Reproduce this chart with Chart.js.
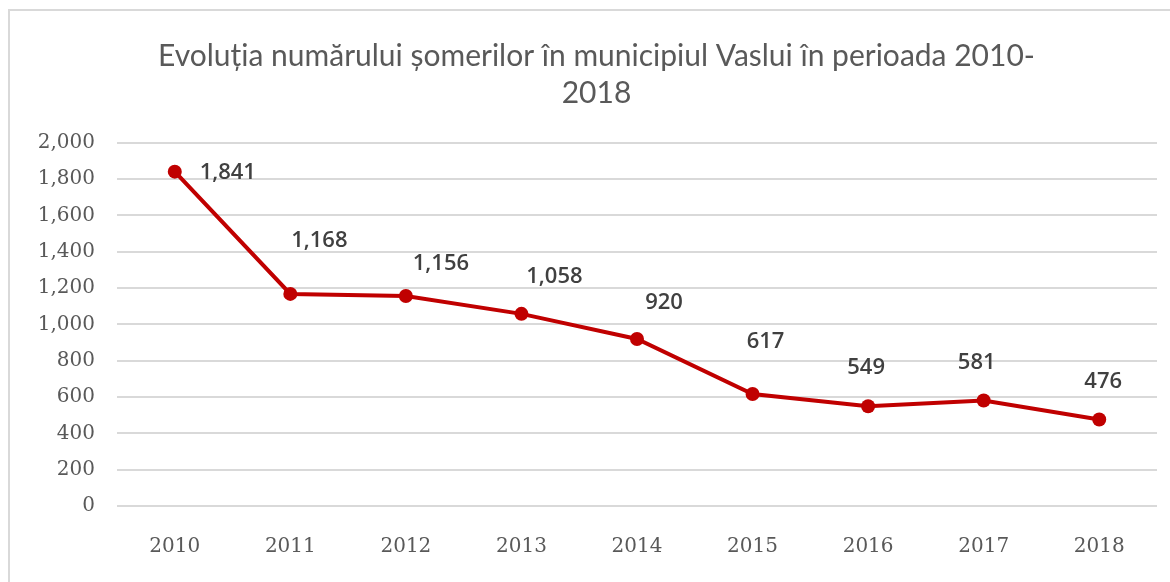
<!DOCTYPE html>
<html>
<head>
<meta charset="utf-8">
<script src="https://cdn.jsdelivr.net/npm/chart.js@4.4.1/dist/chart.umd.min.js"></script>
<style>
  html, body { margin: 0; padding: 0; background: #fff; }
  #wrap { position: relative; width: 1170px; height: 582px; }
  canvas { display: block; }
  #frame { position: absolute; left: 8px; top: 9px; right: -4px; bottom: -4px; border: 2px solid #d9d9d9; pointer-events: none; }
</style>
</head>
<body>
<div id="wrap">
  <canvas id="chart" width="1170" height="582"></canvas>
  <div id="frame"></div>
</div>
<script>
const titleLines = ["Evoluția numărului șomerilor în municipiul Vaslui în perioada 2010-", "2018"];
const years = ["2010", "2011", "2012", "2013", "2014", "2015", "2016", "2017", "2018"];
const unemployed = [1841, 1168, 1156, 1058, 920, 617, 549, 581, 476];
const yTicks = [0, 200, 400, 600, 800, 1000, 1200, 1400, 1600, 1800, 2000];

// label nudges (px) relative to each point
const labelShift = [[53, 1], [29, -53], [35, -32], [33, -37], [27, -36], [13, -52], [-2, -39], [-7, -38], [4, -38]];

const fmt = v => v.toLocaleString("en-US");

const pointLabels = {
  id: "pointLabels",
  afterDatasetsDraw(chart) {
    const ctx = chart.ctx;
    const meta = chart.getDatasetMeta(0);
    ctx.save();
    ctx.font = "600 22px 'Open Sans'";
    ctx.fillStyle = "#404040";
    ctx.textAlign = "center";
    ctx.textBaseline = "middle";
    meta.data.forEach((pt, i) => {
      const [dx, dy] = labelShift[i];
      ctx.fillText(fmt(unemployed[i]), pt.x + dx, pt.y + dy);
    });
    ctx.restore();
  }
};

const ctx = document.getElementById("chart").getContext("2d");
new Chart(ctx, {
  type: "line",
  data: {
    labels: years,
    datasets: [{
      data: unemployed,
      borderColor: "#c00000",
      backgroundColor: "#c00000",
      borderWidth: 4,
      pointRadius: 7,
      pointHoverRadius: 7,
      pointBorderWidth: 0,
      tension: 0
    }]
  },
  options: {
    responsive: false,
    animation: false,
    // left padding only nudges the title centre to the right; y axis width makes up for it
    layout: { padding: { left: 36, right: 13, top: 0, bottom: 0 } },
    plugins: {
      legend: { display: false },
      tooltip: { enabled: false },
      title: {
        display: true,
        text: titleLines,
        color: "#595959",
        font: { family: "Lato", size: 30, weight: "normal", lineHeight: 1.23 },
        padding: { top: 38, bottom: 31 }
      }
    },
    scales: {
      x: {
        offset: true,
        afterFit: scale => { scale.height = 76; },
        grid: { display: false, drawTicks: false },
        border: { display: false },
        ticks: {
          color: "#595959",
          font: { family: "DejaVu Serif", size: 20 },
          padding: 29,
          maxRotation: 0
        }
      },
      y: {
        min: 0,
        max: 2000,
        afterBuildTicks: scale => { scale.ticks = yTicks.map(v => ({ value: v })); },
        afterFit: scale => { scale.width = 81; },
        grid: { color: "#d9d9d9", lineWidth: 2, drawTicks: false },
        border: { display: false },
        ticks: {
          color: "#595959",
          font: { family: "DejaVu Serif", size: 20 },
          padding: 22,
          callback: v => fmt(v)
        }
      }
    }
  },
  plugins: [pointLabels]
});
</script>
</body>
</html>
